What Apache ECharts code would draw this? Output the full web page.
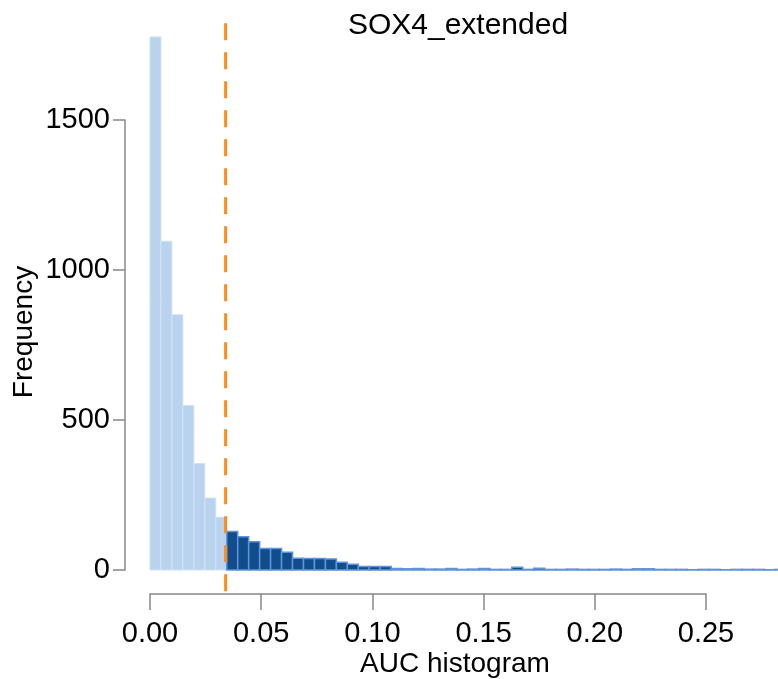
<!DOCTYPE html>
<html>
<head>
<meta charset="utf-8">
<script src="https://cdn.jsdelivr.net/npm/echarts@6/dist/echarts.min.js"></script>
<style>
html, body { margin: 0; padding: 0; background: #fff; }
#main { width: 778px; height: 679px; }
</style>
</head>
<body>
<div id="main"></div>
<script>
// histogram of AUC values, bins
var binStart = 0;
var binWidth = 0.00493;
var binCounts = [
	1777, 1096, 851, 548, 355, 240, 176,
	128, 111, 94, 72, 72, 59, 39, 38, 38, 37, 26, 19, 12, 12, 12,
	5, 4, 5, 3, 3, 5, 2, 3, 5, 2, 2, 9, 2, 6, 2, 2, 3, 2, 2, 2, 3, 2,
	4, 4, 2, 2, 2, 1, 2, 2, 1, 2, 2, 2, 1, 2
];
var threshold = 0.0340;
var xTicks = [0, 0.05, 0.10, 0.15, 0.20, 0.25];
var yTicks = [0, 500, 1000, 1500];

var font = '"Liberation Sans", Arial, sans-serif';

var bins = [];
for (var i = 0; i < binCounts.length; i++) {
	bins.push([binStart + i * binWidth, binStart + (i + 1) * binWidth, binCounts[i]]);
}
var maxCount = Math.max.apply(null, binCounts);
// the threshold line runs over the whole plot region (4% padding, as in R)
var thresholdLine = [[threshold, -0.04 * maxCount, 1.04 * maxCount]];

var chart = echarts.init(document.getElementById('main'));
chart.setOption({
	animation: false,
	backgroundColor: '#fff',
	title: [{
		text: 'SOX4_extended',
		left: 453,
		top: 6,
		textAlign: 'center',
		textStyle: { fontFamily: font, fontSize: 30, fontWeight: 'normal', color: '#000' }
	}, {
		text: 'AUC histogram',
		left: 450,
		top: 645,
		textAlign: 'center',
		textStyle: { fontFamily: font, fontSize: 28, fontWeight: 'normal', color: '#000' }
	}],
	graphic: [{
		type: 'text',
		x: 24,
		y: 332,
		rotation: Math.PI / 2,
		style: {
			text: 'Frequency',
			align: 'center',
			verticalAlign: 'middle',
			font: '28px ' + font,
			fill: '#000'
		}
	}],
	grid: {
		left: 150,
		right: 72,
		top: 120,
		bottom: 109,
		containLabel: false,
		outerBoundsMode: 'none'
	},
	xAxis: {
		type: 'value',
		min: xTicks[0],
		max: xTicks[xTicks.length - 1],
		interval: 0.05,
		offset: 24,
		splitLine: { show: false },
		axisLine: { onZero: false, lineStyle: { color: '#888', width: 1.5 } },
		axisTick: { length: 16, lineStyle: { color: '#888', width: 1.5 } },
		axisLabel: {
			margin: 25,
			fontFamily: font,
			fontSize: 29,
			color: '#000',
			formatter: function (v) { return v.toFixed(2); }
		}
	},
	yAxis: {
		type: 'value',
		min: yTicks[0],
		max: yTicks[yTicks.length - 1],
		interval: 500,
		offset: 25,
		splitLine: { show: false },
		axisLine: { show: true, onZero: false, lineStyle: { color: '#888', width: 1.5 } },
		axisTick: { show: true, length: 12, lineStyle: { color: '#888', width: 1.5 } },
		axisLabel: {
			margin: 15,
			fontFamily: font,
			fontSize: 29,
			color: '#000',
			formatter: function (v) { return String(v); }
		}
	},
	series: [{
		type: 'custom',
		clip: false,
		data: bins,
		renderItem: function (params, api) {
			var x0 = api.value(0), x1 = api.value(1), n = api.value(2);
			var p0 = api.coord([x0, 0]);
			var p1 = api.coord([x1, n]);
			var above = x0 >= threshold;
			return {
				type: 'rect',
				shape: { x: p0[0], y: p1[1], width: p1[0] - p0[0], height: p0[1] - p1[1] },
				style: above ? {
					fill: '#124d8b', stroke: '#6093dd', lineWidth: 1.5
				} : {
					fill: '#b9d3ee', stroke: '#d2e2f5', lineWidth: 1
				}
			};
		}
	}, {
		type: 'custom',
		clip: false,
		z: 5,
		data: thresholdLine,
		renderItem: function (params, api) {
			var a = api.coord([api.value(0), api.value(1)]);
			var b = api.coord([api.value(0), api.value(2)]);
			return {
				type: 'line',
				shape: { x1: a[0], y1: a[1], x2: b[0], y2: b[1] },
				style: { stroke: '#ff8c1a', lineWidth: 3, lineDash: [17, 12] }
			};
		}
	}]
});
</script>
</body>
</html>
